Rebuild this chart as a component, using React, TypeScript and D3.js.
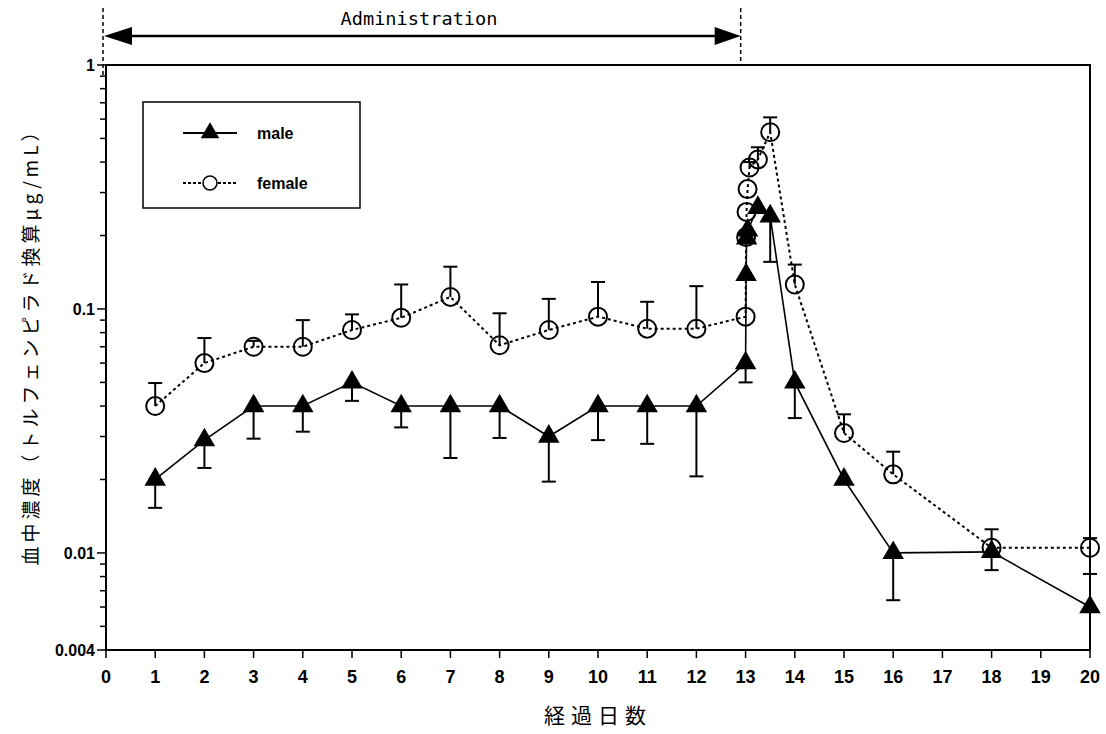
import * as d3 from "d3";

// days after first dose (13.xx = hours after the last dose)
const maleDays = [1, 2, 3, 4, 5, 6, 7, 8, 9, 10, 11, 12, 13, 13.01, 13.02, 13.04, 13.25, 13.5, 14, 15, 16, 18, 20];
const maleConc = [0.02, 0.029, 0.04, 0.04, 0.05, 0.04, 0.04, 0.04, 0.03, 0.04, 0.04, 0.04, 0.06, 0.138, 0.195, 0.21, 0.26, 0.24, 0.05, 0.02, 0.01, 0.0101, 0.006];
// end of the error bar (male bars drawn down, except day 20)
const maleBar = [0.0153, 0.0223, 0.0294, 0.0314, 0.042, 0.0327, 0.0245, 0.0296, 0.0196, 0.029, 0.028, 0.0206, 0.05, null, null, null, null, 0.156, 0.0357, null, 0.0064, 0.0085, 0.0082];

const femaleDays = [1, 2, 3, 4, 5, 6, 7, 8, 9, 10, 11, 12, 13, 13.01, 13.02, 13.04, 13.08, 13.25, 13.5, 14, 15, 16, 18, 20];
const femaleConc = [0.04, 0.06, 0.07, 0.07, 0.082, 0.092, 0.112, 0.071, 0.082, 0.093, 0.083, 0.083, 0.093, 0.197, 0.25, 0.31, 0.38, 0.41, 0.53, 0.126, 0.031, 0.021, 0.0105, 0.0105];
const femaleBar = [0.0497, 0.076, 0.074, 0.09, 0.095, 0.126, 0.149, 0.096, 0.11, 0.129, 0.107, 0.124, null, null, null, null, 0.4, 0.46, 0.61, 0.152, 0.037, 0.026, 0.0125, 0.0115];

const xTicks = d3.range(0, 21);
const yMajor = [1, 0.1, 0.01, 0.004];
const yMajorLabels = ["1", "0.1", "0.01", "0.004"];
const yMinor = [0.2, 0.3, 0.4, 0.5, 0.6, 0.7, 0.8, 0.9, 0.02, 0.03, 0.04, 0.05, 0.06, 0.07, 0.08, 0.09, 0.005, 0.006, 0.007, 0.008, 0.009];

const adminEnd = 12.9;

const W = 1106;
const H = 734;
const left = 106, right = 1090, top = 65, bottom = 650;

export default function App() {
  const x = d3.scaleLinear().domain([0, 20]).range([left, right]);
  const y = d3.scaleLog().domain([0.004, 1]).range([bottom, top]);

  const maleLine = d3.line<number>().x((_, i) => x(maleDays[i])).y(d => y(d));
  const femaleLine = d3.line<number>().x((_, i) => x(femaleDays[i])).y(d => y(d));
  const tri = d3.symbol(d3.symbolTriangle, 200)()!;
  const tickFont = "'Liberation Sans', Arial, sans-serif";
  const jp = "'Noto Sans CJK JP', sans-serif";

  return (
    <svg width={W} height={H} style={{position: "absolute", left: 0, top: 0, background: "#fff"}}>
      {/* administration arrow */}
      <line x1={x(0) - 3} x2={x(0) - 3} y1={8} y2={78} stroke="#000" strokeWidth={1.5} strokeDasharray="4,3"/>
      <line x1={x(adminEnd)} x2={x(adminEnd)} y1={8} y2={66} stroke="#000" strokeWidth={1.5} strokeDasharray="4,3"/>
      <line x1={x(0) + 20} x2={x(adminEnd) - 20} y1={36} y2={36} stroke="#000" strokeWidth={2.5}/>
      <path d={`M${x(0) - 2},36 L${x(0) + 26},27 L${x(0) + 26},45 Z`} fill="#000"/>
      <path d={`M${x(adminEnd)},36 L${x(adminEnd) - 26},27 L${x(adminEnd) - 26},45 Z`} fill="#000"/>
      <text x={419} y={25} textAnchor="middle" fontFamily="'DejaVu Sans Mono', monospace" fontSize={18}
            textLength={157} lengthAdjust="spacingAndGlyphs">Administration</text>

      {/* frame */}
      <rect x={left} y={top} width={right - left} height={bottom - top} fill="none" stroke="#000" strokeWidth={2}/>

      {/* y ticks */}
      {yMinor.map(v => (
        <line key={"m" + v} x1={left - 6} x2={left} y1={y(v)} y2={y(v)} stroke="#000" strokeWidth={1.5}/>
      ))}
      {yMajor.map((v, i) => (
        <g key={"M" + v}>
          <line x1={left - 9} x2={left} y1={y(v)} y2={y(v)} stroke="#000" strokeWidth={1.5}/>
          <text x={left - 11} y={y(v)} dy="0.36em" textAnchor="end" fontFamily={tickFont} fontWeight="bold" fontSize={16}>{yMajorLabels[i]}</text>
        </g>
      ))}

      {/* x ticks */}
      {xTicks.map(t => (
        <g key={"x" + t}>
          <line x1={x(t)} x2={x(t)} y1={bottom} y2={bottom + 8} stroke="#000" strokeWidth={1.5}/>
          <text x={x(t)} y={bottom + 33} textAnchor="middle" fontFamily={tickFont} fontWeight="bold" fontSize={18}>{t}</text>
        </g>
      ))}

      {/* axis titles */}
      <text x={598} y={723} textAnchor="middle" fontFamily={jp} fontSize={21} letterSpacing={6}>経過日数</text>
      <text transform="translate(38,342) rotate(-90)" textAnchor="middle" fontFamily={jp} fontSize={19}
            letterSpacing={4}>血中濃度（トルフェンピラド換算μg/mL）</text>

      {/* series lines */}
      <path d={femaleLine(femaleConc)!} fill="none" stroke="#000" strokeWidth={2} strokeDasharray="3,3"/>
      <path d={maleLine(maleConc)!} fill="none" stroke="#000" strokeWidth={1.6}/>

      {/* error bars */}
      {femaleBar.map((b, i) => b == null ? null : (
        <g key={"fe" + i} stroke="#000" strokeWidth={2}>
          <line x1={x(femaleDays[i])} x2={x(femaleDays[i])} y1={y(femaleConc[i])} y2={y(b)}/>
          <line x1={x(femaleDays[i]) - 7} x2={x(femaleDays[i]) + 7} y1={y(b)} y2={y(b)}/>
        </g>
      ))}
      {maleBar.map((b, i) => b == null ? null : (
        <g key={"me" + i} stroke="#000" strokeWidth={2}>
          <line x1={x(maleDays[i])} x2={x(maleDays[i])} y1={y(maleConc[i])} y2={y(b)}/>
          <line x1={x(maleDays[i]) - 7} x2={x(maleDays[i]) + 7} y1={y(b)} y2={y(b)}/>
        </g>
      ))}

      {/* markers */}
      {femaleConc.map((v, i) => (
        <circle key={"fc" + i} cx={x(femaleDays[i])} cy={y(v)} r={9} fill="none" stroke="#000" strokeWidth={2}/>
      ))}
      {maleConc.map((v, i) => (
        <path key={"mt" + i} d={tri} transform={`translate(${x(maleDays[i])},${y(v)})`} fill="#000"/>
      ))}

      {/* legend */}
      <rect x={143} y={102} width={217} height={106} fill="#fff" stroke="#000" strokeWidth={1.5}/>
      <line x1={183} x2={237} y1={133} y2={133} stroke="#000" strokeWidth={2}/>
      <path d={d3.symbol(d3.symbolTriangle, 150)()!} transform="translate(210,133)" fill="#000"/>
      <text x={257} y={133} dy="0.35em" fontFamily={tickFont} fontWeight="bold" fontSize={16}>male</text>
      <line x1={183} x2={237} y1={183} y2={183} stroke="#000" strokeWidth={2.2} strokeDasharray="3,2"/>
      <circle cx={210} cy={183} r={7} fill="#fff" stroke="#000" strokeWidth={1.6}/>
      <text x={257} y={183} dy="0.35em" fontFamily={tickFont} fontWeight="bold" fontSize={16}>female</text>
    </svg>
  );
}
